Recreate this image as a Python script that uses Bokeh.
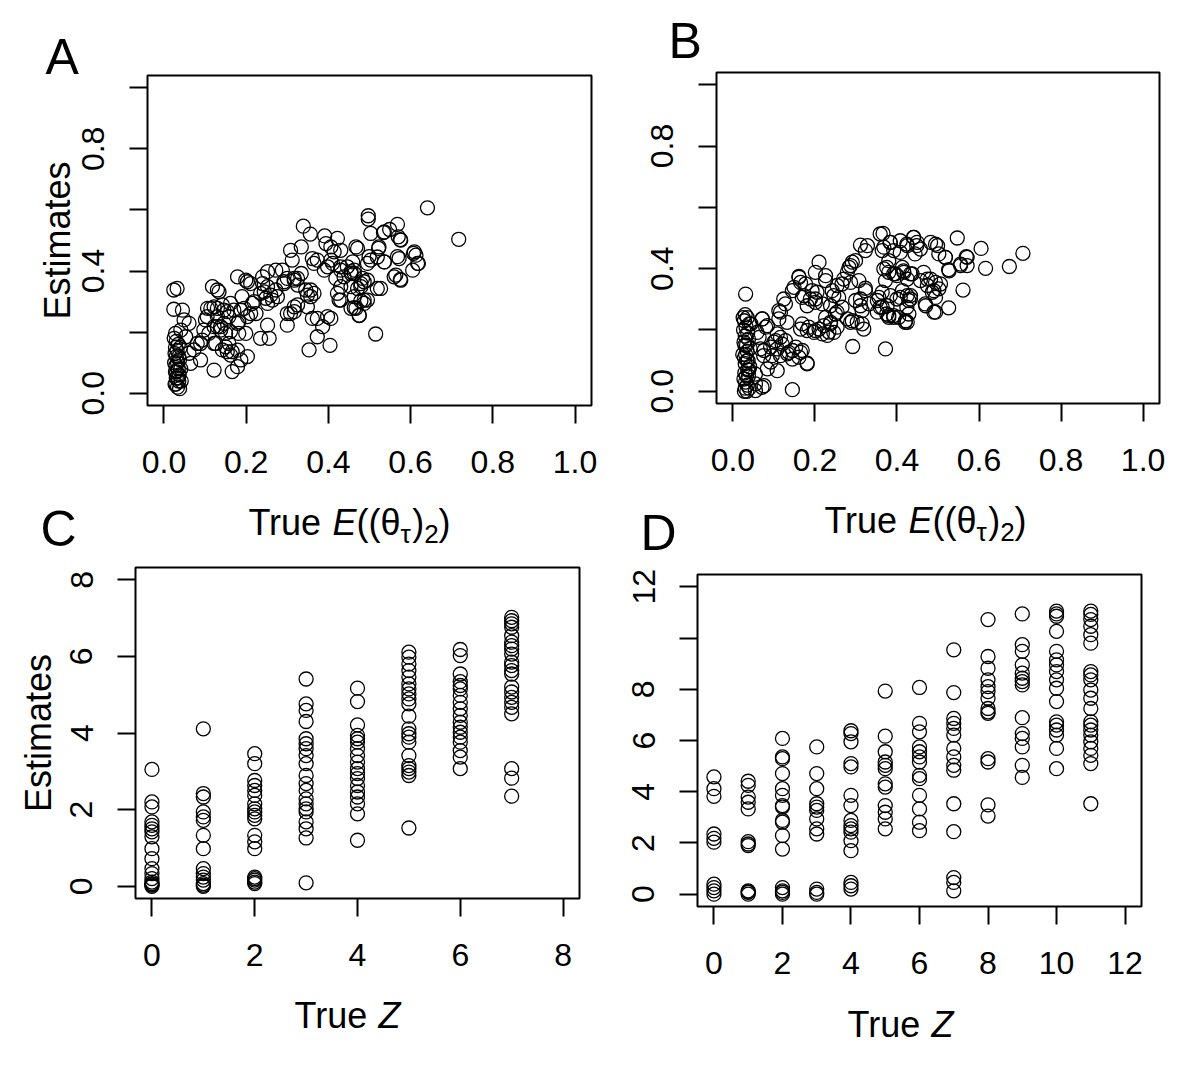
from bokeh.plotting import figure
from bokeh.models import Range1d, FixedTicker, Label, PrintfTickFormatter, Title
from bokeh.layouts import column, row
from bokeh.embed import file_html
from bokeh.resources import INLINE

# ---------------- Panel A data ----------------
a_x = [0.641, 0.717, 0.497, 0.497, 0.515, 0.339, 0.356, 0.568, 0.549, 0.534, 0.503, 0.575, 0.391, 0.422,
       0.607, 0.613, 0.619, 0.605, 0.568, 0.572, 0.560, 0.575, 0.536, 0.522, 0.499, 0.503, 0.495, 0.519,
       0.495, 0.479, 0.475, 0.463, 0.487, 0.479, 0.467, 0.471, 0.459, 0.446, 0.455, 0.463, 0.430, 0.438,
       0.418, 0.406, 0.398, 0.410, 0.414, 0.406, 0.394, 0.426, 0.422, 0.455, 0.373, 0.361, 0.386, 0.373,
       0.353, 0.404, 0.398, 0.361, 0.373, 0.357, 0.349, 0.357, 0.308, 0.312, 0.334, 0.300, 0.317, 0.325,
       0.334, 0.292, 0.288, 0.272, 0.252, 0.240, 0.317, 0.308, 0.300, 0.272, 0.276, 0.264, 0.252, 0.244,
       0.252, 0.240, 0.211, 0.199, 0.179, 0.190, 0.252, 0.256, 0.215, 0.224, 0.203, 0.199, 0.162, 0.170,
       0.158, 0.187, 0.179, 0.118, 0.134, 0.130, 0.114, 0.106, 0.130, 0.146, 0.101, 0.097, 0.109, 0.093,
       0.122, 0.138, 0.150, 0.146, 0.126, 0.142, 0.158, 0.166, 0.122, 0.166, 0.179, 0.203, 0.081, 0.073,
       0.089, 0.065, 0.162, 0.154, 0.024, 0.032, 0.024, 0.045, 0.049, 0.061, 0.041, 0.028, 0.053, 0.061,
       0.203, 0.235, 0.260, 0.248, 0.219, 0.195, 0.211, 0.154, 0.182, 0.138, 0.122, 0.142, 0.105, 0.130,
       0.130, 0.162, 0.089, 0.122, 0.150, 0.179, 0.187, 0.235, 0.182, 0.317, 0.325, 0.300, 0.349, 0.365,
       0.345, 0.292, 0.317, 0.325, 0.365, 0.390, 0.455, 0.471, 0.430, 0.455, 0.475, 0.487, 0.406,
       0.536, 0.570, 0.576, 0.523, 0.536, 0.519, 0.609, 0.617, 0.564, 0.576, 0.527, 0.495, 0.479, 0.463,
       0.467, 0.487, 0.430, 0.463, 0.483, 0.430, 0.430,
       0.025, 0.030, 0.035, 0.028, 0.040, 0.032, 0.027, 0.036, 0.030, 0.038, 0.026, 0.033, 0.029, 0.041,
       0.035, 0.031, 0.028, 0.037, 0.034, 0.030, 0.042, 0.036, 0.029, 0.033, 0.038, 0.027]
a_y = [0.607, 0.504, 0.581, 0.570, 0.194, 0.547, 0.521, 0.553, 0.536, 0.526, 0.523, 0.503, 0.515, 0.507,
       0.458, 0.452, 0.425, 0.403, 0.447, 0.441, 0.381, 0.373, 0.430, 0.474, 0.447, 0.436, 0.425, 0.343,
       0.305, 0.302, 0.254, 0.280, 0.365, 0.359, 0.479, 0.474, 0.430, 0.414, 0.398, 0.392, 0.403, 0.381,
       0.376, 0.436, 0.414, 0.425, 0.463, 0.479, 0.490, 0.305, 0.327, 0.349, 0.245, 0.245, 0.218, 0.185,
       0.142, 0.157, 0.251, 0.441, 0.436, 0.316, 0.321, 0.338, 0.468, 0.436, 0.479, 0.376, 0.370, 0.376,
       0.392, 0.359, 0.403, 0.403, 0.398, 0.381, 0.283, 0.261, 0.223, 0.338, 0.316, 0.305, 0.294, 0.332,
       0.349, 0.359, 0.359, 0.370, 0.381, 0.316, 0.223, 0.180, 0.294, 0.261, 0.251, 0.196, 0.294, 0.272,
       0.251, 0.272, 0.229, 0.349, 0.332, 0.338, 0.278, 0.278, 0.278, 0.272, 0.240, 0.207, 0.196, 0.174,
       0.218, 0.207, 0.196, 0.229, 0.163, 0.142, 0.163, 0.136, 0.076, 0.071, 0.087, 0.120, 0.163, 0.142,
       0.109, 0.098, 0.125, 0.136, 0.338, 0.343, 0.275, 0.272, 0.240, 0.229, 0.207, 0.196, 0.185, 0.131,
       0.365, 0.327, 0.321, 0.311, 0.300, 0.278, 0.261, 0.267, 0.234, 0.218, 0.283, 0.289, 0.251, 0.251,
       0.218, 0.202, 0.163, 0.163, 0.152, 0.141, 0.109, 0.180, 0.196, 0.267, 0.289, 0.261, 0.283, 0.327,
       0.338, 0.365, 0.376, 0.354, 0.425, 0.403, 0.392, 0.343, 0.305, 0.278, 0.256, 0.305, 0.245,
       0.528, 0.512, 0.501, 0.479, 0.430, 0.446, 0.463, 0.425, 0.387, 0.370, 0.343, 0.370, 0.349, 0.316,
       0.278, 0.294, 0.468, 0.403, 0.376, 0.349, 0.414,
       0.180, 0.170, 0.160, 0.150, 0.150, 0.140, 0.130, 0.120, 0.120, 0.110, 0.100, 0.100, 0.090, 0.080,
       0.080, 0.070, 0.070, 0.060, 0.050, 0.050, 0.040, 0.040, 0.030, 0.020, 0.015, 0.030]

# ---------------- Panel B data ----------------
b_x = [0.707, 0.674, 0.605, 0.616, 0.547, 0.561, 0.526, 0.569, 0.571, 0.555, 0.518, 0.526, 0.482, 0.499,
       0.441, 0.449, 0.457, 0.366, 0.384, 0.368, 0.392, 0.408, 0.425, 0.311, 0.328, 0.380, 0.368, 0.400,
       0.417, 0.425, 0.465, 0.482, 0.494, 0.474, 0.486, 0.502, 0.494, 0.470, 0.425, 0.433, 0.400, 0.384,
       0.429, 0.425, 0.392, 0.380, 0.352, 0.352, 0.364, 0.376, 0.323, 0.311, 0.311, 0.287, 0.291, 0.279,
       0.270, 0.287, 0.254, 0.246, 0.238, 0.254, 0.287, 0.303, 0.319, 0.279, 0.292, 0.372, 0.210, 0.226,
       0.201, 0.161, 0.149, 0.165, 0.173, 0.189, 0.201, 0.205, 0.181, 0.165, 0.181, 0.198, 0.210, 0.222,
       0.230, 0.238, 0.254, 0.246, 0.124, 0.116, 0.112, 0.132, 0.100, 0.108, 0.116, 0.092, 0.136, 0.145,
       0.165, 0.181, 0.084, 0.108, 0.145, 0.071, 0.055, 0.059, 0.071, 0.084, 0.067, 0.075, 0.031,
       0.072, 0.080, 0.064, 0.076, 0.092, 0.104, 0.120, 0.116, 0.096, 0.133, 0.145, 0.161, 0.181, 0.169,
       0.153, 0.128, 0.108, 0.055, 0.076, 0.055, 0.112, 0.128, 0.145, 0.161, 0.177, 0.193, 0.169, 0.201,
       0.218, 0.169, 0.185, 0.201, 0.218, 0.234, 0.238, 0.226, 0.250, 0.266, 0.258, 0.242, 0.226, 0.266,
       0.283, 0.299, 0.323, 0.307, 0.323, 0.299, 0.315, 0.291, 0.315, 0.332, 0.364, 0.380, 0.404, 0.421,
       0.356, 0.372, 0.396, 0.413, 0.437, 0.380, 0.364, 0.413, 0.429,
       0.571, 0.555, 0.527, 0.518, 0.494, 0.502, 0.440, 0.448, 0.444, 0.424, 0.408, 0.383, 0.359, 0.506,
       0.490, 0.474, 0.457, 0.433, 0.416, 0.392, 0.375, 0.494, 0.469, 0.490, 0.433, 0.408, 0.424, 0.392,
       0.420, 0.375, 0.359,
       0.030, 0.025, 0.035, 0.028, 0.040, 0.032, 0.026, 0.036, 0.030, 0.038, 0.027, 0.033, 0.029, 0.042,
       0.035, 0.031, 0.028, 0.037, 0.034, 0.030, 0.041, 0.036, 0.029, 0.033, 0.038, 0.027, 0.031, 0.035,
       0.030, 0.040, 0.028, 0.034, 0.044, 0.024, 0.039]
b_y = [0.450, 0.407, 0.466, 0.401, 0.500, 0.330, 0.272, 0.439, 0.410, 0.410, 0.437, 0.397, 0.486, 0.475,
       0.502, 0.486, 0.464, 0.515, 0.486, 0.470, 0.459, 0.453, 0.475, 0.477, 0.475, 0.388, 0.399, 0.377,
       0.388, 0.366, 0.388, 0.366, 0.355, 0.345, 0.323, 0.334, 0.258, 0.279, 0.312, 0.301, 0.301, 0.312,
       0.252, 0.225, 0.247, 0.247, 0.296, 0.258, 0.323, 0.279, 0.336, 0.301, 0.279, 0.410, 0.421, 0.388,
       0.366, 0.355, 0.345, 0.312, 0.279, 0.258, 0.225, 0.225, 0.203, 0.236, 0.146, 0.138, 0.421, 0.377,
       0.388, 0.375, 0.339, 0.355, 0.312, 0.301, 0.290, 0.323, 0.279, 0.203, 0.198, 0.192, 0.203, 0.214,
       0.182, 0.225, 0.209, 0.192, 0.301, 0.258, 0.236, 0.225, 0.160, 0.138, 0.116, 0.095, 0.127, 0.105,
       0.127, 0.092, 0.073, 0.067, 0.005, 0.013, 0.002, 0.192, 0.236, 0.214, 0.138, 0.116, 0.317,
       0.236, 0.209, 0.176, 0.133, 0.144, 0.165, 0.154, 0.176, 0.116, 0.122, 0.133, 0.111, 0.089, 0.133,
       0.144, 0.165, 0.187, 0.056, 0.018, 0.024, 0.263, 0.285, 0.328, 0.372, 0.350, 0.328, 0.306, 0.301,
       0.285, 0.220, 0.209, 0.198, 0.187, 0.193, 0.220, 0.241, 0.252, 0.274, 0.306, 0.328, 0.361, 0.350,
       0.404, 0.426, 0.459, 0.361, 0.328, 0.296, 0.263, 0.230, 0.220, 0.285, 0.274, 0.241, 0.241, 0.230,
       0.306, 0.361, 0.383, 0.404, 0.383, 0.426, 0.459, 0.328, 0.296,
       0.437, 0.415, 0.393, 0.437, 0.480, 0.448, 0.502, 0.475, 0.448, 0.480, 0.491, 0.486, 0.513, 0.350,
       0.328, 0.366, 0.361, 0.383, 0.393, 0.383, 0.404, 0.306, 0.285, 0.258, 0.312, 0.306, 0.274, 0.241,
       0.225, 0.252, 0.274,
       0.250, 0.240, 0.240, 0.230, 0.220, 0.210, 0.200, 0.190, 0.180, 0.170, 0.160, 0.150, 0.150, 0.140,
       0.130, 0.120, 0.110, 0.100, 0.100, 0.090, 0.080, 0.070, 0.060, 0.050, 0.050, 0.040, 0.030, 0.020,
       0.010, 0.010, 0.000, 0.000, 0.220, 0.120, 0.070]

# ---------------- Panel C data (true Z = 0..7) ----------------
c_est0 = [3.05, 2.20, 2.07, 1.68, 1.59, 1.50, 1.42, 1.29, 0.98, 0.72, 0.46, 0.33, 0.20, 0.11, 0.07, 0.03, 0.00, 0.05]
c_est1 = [4.11, 2.42, 2.33, 1.94, 1.81, 1.72, 1.33, 0.98, 0.46, 0.33, 0.24, 0.16, 0.07, 0.00, 0.03]
c_est2 = [3.46, 3.20, 2.76, 2.63, 2.50, 2.37, 2.15, 2.02, 1.94, 1.85, 1.76, 1.33, 1.16, 0.98, 0.24, 0.20,
          0.16, 0.11, 0.07]
c_est3 = [5.41, 4.76, 4.59, 4.30, 3.85, 3.72, 3.59, 3.41, 3.20, 2.89, 2.68, 2.50, 2.28, 2.15, 2.02, 1.94,
          1.68, 1.50, 1.26, 0.09]
c_est4 = [5.17, 4.82, 4.21, 3.94, 3.85, 3.76, 3.59, 3.41, 3.24, 3.07, 2.94, 2.81, 2.63, 2.46, 2.33, 2.15,
          1.89, 1.20]
c_est5 = [6.11, 5.98, 5.80, 5.63, 5.46, 5.28, 5.15, 5.02, 4.89, 4.76, 4.44, 4.11, 3.98, 3.89, 3.76, 3.41,
          3.15, 3.07, 2.98, 2.89, 1.52]
c_est6 = [6.18, 6.02, 5.54, 5.34, 5.24, 5.15, 4.98, 4.80, 4.63, 4.46, 4.28, 4.15, 4.02, 3.89, 3.76, 3.54,
          3.37, 3.07]
c_est7 = [7.02, 6.93, 6.85, 6.76, 6.54, 6.37, 6.28, 6.19, 6.06, 5.85, 5.76, 5.63, 5.54, 5.20, 5.07, 4.93,
          4.80, 4.67, 4.50, 3.07, 2.82, 2.35]

# ---------------- Panel D data (true Z = 0..11) ----------------
d_est0 = [4.58, 4.12, 3.82, 2.35, 2.18, 2.03, 0.39, 0.26, 0.13, 0.00]
d_est1 = [4.41, 4.25, 3.79, 3.59, 3.33, 2.05, 1.96, 1.90, 0.13, 0.07, 0.00, 0.09]
d_est2 = [6.08, 5.36, 5.29, 4.71, 4.12, 3.86, 3.46, 3.40, 2.88, 2.81, 2.29, 1.76, 0.26, 0.13, 0.00, 0.07]
d_est3 = [5.75, 4.71, 4.12, 3.53, 3.40, 3.27, 2.94, 2.55, 2.35, 0.20, 0.07, 0.00]
d_est4 = [6.38, 6.27, 5.95, 5.10, 4.97, 3.86, 3.46, 2.88, 2.68, 2.55, 2.42, 2.09, 1.70, 0.46, 0.33, 0.20]
d_est5 = [7.93, 6.17, 5.56, 5.16, 5.03, 4.90, 4.31, 4.18, 3.46, 3.20, 2.94, 2.55]
d_est6 = [8.07, 6.67, 6.34, 5.75, 5.56, 5.36, 5.16, 4.64, 4.51, 3.86, 3.33, 2.81, 2.48]
d_est7 = [9.54, 7.87, 6.86, 6.67, 6.47, 6.21, 5.69, 5.36, 5.03, 4.84, 3.53, 2.44, 0.65, 0.46, 0.13]
d_est8 = [10.72, 9.28, 8.82, 8.37, 8.10, 7.91, 7.65, 7.25, 7.12, 7.06, 5.29, 5.16, 3.49, 3.05]
d_est9 = [10.94, 9.74, 9.48, 8.95, 8.63, 8.43, 8.30, 8.17, 6.89, 6.27, 6.08, 5.75, 5.03, 4.56]
d_est10 = [11.05, 10.94, 10.85, 10.26, 9.48, 9.15, 8.95, 8.69, 8.37, 8.04, 7.52, 6.73, 6.60, 6.41, 6.21,
           5.69, 4.90]
d_est11 = [11.05, 10.92, 10.72, 10.46, 10.13, 9.80, 8.69, 8.56, 8.37, 7.97, 7.65, 7.25, 6.73, 6.60, 6.41,
           6.21, 5.95, 5.69, 5.42, 5.10, 3.53]

c_groups = [c_est0, c_est1, c_est2, c_est3, c_est4, c_est5, c_est6, c_est7]
d_groups = [d_est0, d_est1, d_est2, d_est3, d_est4, d_est5, d_est6, d_est7, d_est8, d_est9, d_est10, d_est11]
c_x = [z for z, g in enumerate(c_groups) for _ in g]
c_y = [v for g in c_groups for v in g]
d_x = [z for z, g in enumerate(d_groups) for _ in g]
d_y = [v for g in d_groups for v in g]

# tick definitions
ab_ticks = [0.0, 0.2, 0.4, 0.6, 0.8, 1.0]
ab_y_labeled = [0.0, 0.4, 0.8]
ab_y_unlabeled = [0.2, 0.6, 1.0]
c_ticks = [0, 2, 4, 6, 8]
d_ticks = [0, 2, 4, 6, 8, 10, 12]
d_y_labeled = [0, 2, 4, 6, 8, 12]
d_y_unlabeled = [10]

FONT = "Liberation Sans"
W = {"T": 0.611, "r": 0.333, "u": 0.556, "e": 0.556, " ": 0.278, "E": 0.667, "(": 0.333, ")": 0.333,
     "θ": 0.556, "τ": 0.45, "2": 0.556, "Z": 0.611}


def make_fig(width, height, bl, br, bt, bb, xr, yr):
    p = figure(width=width, height=height, min_border_left=bl, min_border_right=br,
               min_border_top=bt, min_border_bottom=bb,
               x_range=Range1d(*xr), y_range=Range1d(*yr),
               output_backend="svg", toolbar_location=None, tools="")
    p.grid.visible = False
    p.outline_line_color = "black"
    p.outline_line_width = 2
    p.background_fill_color = "white"
    p.border_fill_color = "white"
    return p


def style_axis(ax, major, minor, fmt, vertical, standoff):
    ax.ticker = FixedTicker(ticks=major, minor_ticks=minor)
    ax.formatter = PrintfTickFormatter(format=fmt)
    ax.axis_line_color = None
    ax.major_tick_out = 18
    ax.major_tick_in = 0
    ax.major_tick_line_width = 2
    ax.major_tick_line_color = "black"
    ax.minor_tick_out = 18
    ax.minor_tick_in = 0
    ax.minor_tick_line_width = 2
    ax.minor_tick_line_color = "black" if minor else None
    ax.major_label_text_font = FONT
    ax.major_label_text_font_size = "32px"
    ax.major_label_text_color = "black"
    ax.major_label_standoff = standoff
    if vertical:
        ax.major_label_orientation = "vertical"


def y_title(ax, text, standoff):
    ax.axis_label = text
    ax.axis_label_text_font = FONT
    ax.axis_label_text_font_size = "36px"
    ax.axis_label_text_font_style = "normal"
    ax.axis_label_text_color = "black"
    ax.axis_label_standoff = standoff


def letter(p, text, offset, standoff):
    p.add_layout(Title(text=text, align="left", offset=offset, standoff=standoff, text_font=FONT,
                       text_font_size="50px", text_font_style="normal", text_color="black"), "above")


class Strip:
    """A blank figure used only to hold text, placed in page pixels."""

    def __init__(self, left, top, width, height):
        self.left, self.top, self.height = left, top, height
        s = figure(width=width, height=height, min_border=0, x_range=Range1d(0, width),
                   y_range=Range1d(0, height), x_axis_type=None, y_axis_type=None,
                   output_backend="svg", toolbar_location=None, tools="")
        s.outline_line_color = None
        s.grid.visible = False
        s.background_fill_color = "white"
        s.border_fill_color = "white"
        self.fig = s

    def text(self, page_x, baseline, text, size, style="normal"):
        # the label is positioned on its vertical middle, about 0.36 em above the baseline
        y = self.top + self.height - (baseline - 0.36 * size)
        self.fig.add_layout(Label(x=page_x - self.left, y=y, x_units="screen", y_units="screen",
                                  text=text, text_font=FONT, text_font_size=f"{size}px",
                                  text_font_style=style, text_align="left",
                                  text_baseline="alphabetic", text_color="black"))

    def title(self, pieces, center_x, baseline):
        widths = [sum(W[ch] for ch in t) * size for t, _, size, _ in pieces]
        x = center_x - sum(widths) / 2
        for (t, style, size, dy), w in zip(pieces, widths):
            self.text(x, baseline + dy, t, size, style)
            x += w


theta_title = [("True ", "normal", 36, 0), ("E", "italic", 36, 0), ("((θ", "normal", 36, 0),
               ("τ", "normal", 26, 8), (")", "normal", 36, 0), ("2", "normal", 26, 8), (")", "normal", 36, 0)]
z_title = [("True ", "normal", 36, 0), ("Z", "italic", 36, 0)]

SCAT = dict(marker="circle", size=14, fill_color=None, line_color="black", line_width=1.3)

# Panel A  (page x 0..600, y 0..498)
pA = make_fig(600, 498, 147, 9, 75, 93, (-0.04, 1.04), (-0.04, 1.04))
pA.scatter(a_x, a_y, **SCAT)
style_axis(pA.xaxis[0], ab_ticks, [], "%.1f", False, 27)
style_axis(pA.yaxis[0], ab_y_labeled, ab_y_unlabeled, "%.1f", True, 25)
y_title(pA.yaxis[0], "Estimates", 2)
letter(pA, "A", -102, -19)

# Panel B  (page x 600..1196, y 0..498)
pB = make_fig(596, 498, 116, 37, 72, 95, (-0.04, 1.04), (-0.04, 1.04))
pB.scatter(b_x, b_y, **SCAT)
style_axis(pB.xaxis[0], ab_ticks, [], "%.1f", False, 27)
style_axis(pB.yaxis[0], ab_y_labeled, ab_y_unlabeled, "%.1f", True, 25)
letter(pB, "B", -48, 7)

# Middle strip (page y 498..562): x titles of A and B, panel letters C and D
s1 = Strip(0, 498, 1196, 64)
s1.title(theta_title, 349, 535)
s1.title(theta_title, 925, 533)
s1.text(40, 546, "C", 50)
s1.text(640, 550, "D", 50)

# Panel C  (page x 0..600, y 562..993)
pC = make_fig(600, 431, 135, 21, 5, 95, (-0.32, 8.32), (-0.32, 8.32))
pC.scatter(c_x, c_y, **SCAT)
style_axis(pC.xaxis[0], c_ticks, [], "%d", False, 27)
style_axis(pC.yaxis[0], c_ticks, [], "%d", True, 25)
y_title(pC.yaxis[0], "Estimates", 9)

# Panel D  (page x 600..1196, y 562..1001)
pD = make_fig(596, 439, 97, 55, 12, 95, (-0.48, 12.48), (-0.48, 12.48))
pD.scatter(d_x, d_y, **SCAT)
style_axis(pD.xaxis[0], d_ticks, [], "%d", False, 27)
style_axis(pD.yaxis[0], d_y_labeled, d_y_unlabeled, "%d", True, 25)

# Bottom strips: x titles of C and D
s2c = Strip(0, 993, 600, 63)
s2c.title(z_title, 347, 1028)
s2d = Strip(600, 1001, 596, 55)
s2d.title(z_title, 900, 1037)

top = row(column(pA), column(pB))
bottom = row(column(column(pC), column(s2c.fig)), column(column(pD), column(s2d.fig)))
layout = column(top, s1.fig, bottom)
open("out.html", "w").write(file_html(layout, INLINE))
